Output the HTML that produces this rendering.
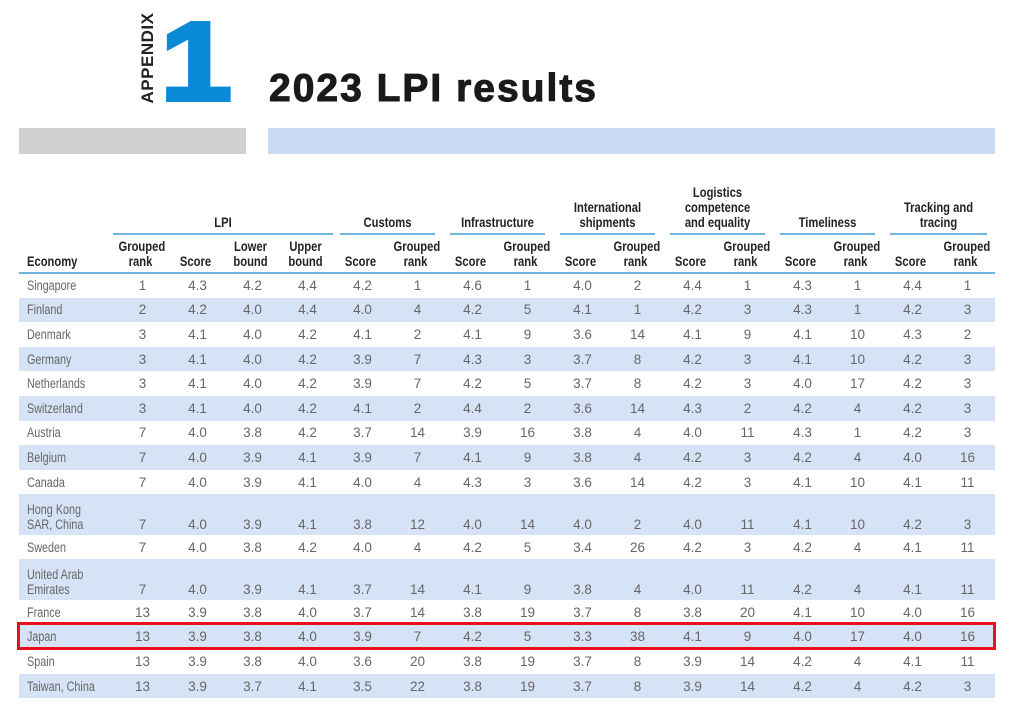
<!DOCTYPE html>
<html><head><meta charset="utf-8"><style>
body{margin:0;width:1013px;height:709px;background:#fff;position:relative;overflow:hidden;font-family:"Liberation Sans",sans-serif;}
.abs{position:absolute}
table{position:absolute;left:19px;top:273px;border-collapse:collapse;table-layout:fixed;width:976px}
td{padding:0;text-align:center;font-size:13.5px;color:#666;height:24.6px;vertical-align:middle}
td span{display:inline-block;transform:scaleX(0.85)}
td:first-child{text-align:left;padding-left:8px;line-height:15px;white-space:nowrap}
td:first-child span{transform:scaleX(0.8);transform-origin:left center}
tr.b td{background:#d6e3f6}
tr.t td{height:37.5px;vertical-align:bottom;padding-bottom:3px}
.h{position:absolute;font-weight:bold;font-size:14px;color:#222;text-align:center;line-height:15px;transform:scaleX(0.8);white-space:nowrap}
.ul{position:absolute;top:233px;height:2px;background:#6fb7e0}
</style></head><body>
<div class="abs" style="left:19px;top:128px;width:227px;height:26px;background:#d0d0d0"></div>
<div class="abs" style="left:268px;top:128px;width:727px;height:26px;background:#c9dbf2"></div>
<div class="abs" style="left:102px;top:48px;width:92px;height:20px;transform:rotate(-90deg);font-weight:bold;font-size:17px;color:#222;letter-spacing:0.5px;text-align:center;line-height:20px">APPENDIX</div>
<div class="abs" style="left:165px;top:6px;font-weight:900;font-size:112px;color:#0a8ad6;line-height:112px;transform:scaleX(1.15);-webkit-text-stroke:4px #0a8ad6">1</div>
<div class="abs" style="left:269px;top:68px;font-weight:900;font-size:39px;color:#1a1a1a;line-height:42px;letter-spacing:2px;-webkit-text-stroke:1px #1a1a1a">2023 LPI results</div>

<div class="h" style="left:113px;width:220px;top:215px">LPI</div>
<div class="h" style="left:340px;width:95px;top:215px">Customs</div>
<div class="h" style="left:450px;width:95px;top:215px">Infrastructure</div>
<div class="h" style="left:555px;width:105px;top:200px">International<br>shipments</div>
<div class="h" style="left:665px;width:105px;top:185px">Logistics<br>competence<br>and equality</div>
<div class="h" style="left:780px;width:95px;top:215px">Timeliness</div>
<div class="h" style="left:885px;width:107px;top:200px">Tracking and<br>tracing</div>
<div class="ul" style="left:113px;width:220px"></div>
<div class="ul" style="left:340px;width:95px"></div>
<div class="ul" style="left:450px;width:95px"></div>
<div class="ul" style="left:560px;width:95px"></div>
<div class="ul" style="left:670px;width:95px"></div>
<div class="ul" style="left:780px;width:95px"></div>
<div class="ul" style="left:890px;width:97px"></div>

<div class="h" style="left:27px;top:254px;text-align:left;transform-origin:left center">Economy</div>
<div class="h" style="left:113px;width:55px;top:239px">Grouped<br>rank</div>
<div class="h" style="left:168px;width:55px;top:254px">Score</div>
<div class="h" style="left:223px;width:55px;top:239px">Lower<br>bound</div>
<div class="h" style="left:278px;width:55px;top:239px">Upper<br>bound</div>
<div class="h" style="left:333px;width:55px;top:254px">Score</div>
<div class="h" style="left:388px;width:55px;top:239px">Grouped<br>rank</div>
<div class="h" style="left:443px;width:55px;top:254px">Score</div>
<div class="h" style="left:498px;width:55px;top:239px">Grouped<br>rank</div>
<div class="h" style="left:553px;width:55px;top:254px">Score</div>
<div class="h" style="left:608px;width:55px;top:239px">Grouped<br>rank</div>
<div class="h" style="left:663px;width:55px;top:254px">Score</div>
<div class="h" style="left:718px;width:55px;top:239px">Grouped<br>rank</div>
<div class="h" style="left:773px;width:55px;top:254px">Score</div>
<div class="h" style="left:828px;width:55px;top:239px">Grouped<br>rank</div>
<div class="h" style="left:883px;width:55px;top:254px">Score</div>
<div class="h" style="left:938px;width:55px;top:239px">Grouped<br>rank</div>
<div class="abs" style="left:19px;top:272px;width:976px;height:2px;background:#6fb7e0"></div>

<table>
<colgroup><col style="width:96px"><col span="16" style="width:55px"></colgroup>
<tr><td><span>Singapore</span></td><td>1</td><td>4.3</td><td>4.2</td><td>4.4</td><td>4.2</td><td>1</td><td>4.6</td><td>1</td><td>4.0</td><td>2</td><td>4.4</td><td>1</td><td>4.3</td><td>1</td><td>4.4</td><td>1</td></tr>
<tr class="b"><td><span>Finland</span></td><td>2</td><td>4.2</td><td>4.0</td><td>4.4</td><td>4.0</td><td>4</td><td>4.2</td><td>5</td><td>4.1</td><td>1</td><td>4.2</td><td>3</td><td>4.3</td><td>1</td><td>4.2</td><td>3</td></tr>
<tr><td><span>Denmark</span></td><td>3</td><td>4.1</td><td>4.0</td><td>4.2</td><td>4.1</td><td>2</td><td>4.1</td><td>9</td><td>3.6</td><td>14</td><td>4.1</td><td>9</td><td>4.1</td><td>10</td><td>4.3</td><td>2</td></tr>
<tr class="b"><td><span>Germany</span></td><td>3</td><td>4.1</td><td>4.0</td><td>4.2</td><td>3.9</td><td>7</td><td>4.3</td><td>3</td><td>3.7</td><td>8</td><td>4.2</td><td>3</td><td>4.1</td><td>10</td><td>4.2</td><td>3</td></tr>
<tr><td><span>Netherlands</span></td><td>3</td><td>4.1</td><td>4.0</td><td>4.2</td><td>3.9</td><td>7</td><td>4.2</td><td>5</td><td>3.7</td><td>8</td><td>4.2</td><td>3</td><td>4.0</td><td>17</td><td>4.2</td><td>3</td></tr>
<tr class="b"><td><span>Switzerland</span></td><td>3</td><td>4.1</td><td>4.0</td><td>4.2</td><td>4.1</td><td>2</td><td>4.4</td><td>2</td><td>3.6</td><td>14</td><td>4.3</td><td>2</td><td>4.2</td><td>4</td><td>4.2</td><td>3</td></tr>
<tr><td><span>Austria</span></td><td>7</td><td>4.0</td><td>3.8</td><td>4.2</td><td>3.7</td><td>14</td><td>3.9</td><td>16</td><td>3.8</td><td>4</td><td>4.0</td><td>11</td><td>4.3</td><td>1</td><td>4.2</td><td>3</td></tr>
<tr class="b"><td><span>Belgium</span></td><td>7</td><td>4.0</td><td>3.9</td><td>4.1</td><td>3.9</td><td>7</td><td>4.1</td><td>9</td><td>3.8</td><td>4</td><td>4.2</td><td>3</td><td>4.2</td><td>4</td><td>4.0</td><td>16</td></tr>
<tr><td><span>Canada</span></td><td>7</td><td>4.0</td><td>3.9</td><td>4.1</td><td>4.0</td><td>4</td><td>4.3</td><td>3</td><td>3.6</td><td>14</td><td>4.2</td><td>3</td><td>4.1</td><td>10</td><td>4.1</td><td>11</td></tr>
<tr class="b t"><td><span>Hong Kong<br>SAR, China</span></td><td>7</td><td>4.0</td><td>3.9</td><td>4.1</td><td>3.8</td><td>12</td><td>4.0</td><td>14</td><td>4.0</td><td>2</td><td>4.0</td><td>11</td><td>4.1</td><td>10</td><td>4.2</td><td>3</td></tr>
<tr><td><span>Sweden</span></td><td>7</td><td>4.0</td><td>3.8</td><td>4.2</td><td>4.0</td><td>4</td><td>4.2</td><td>5</td><td>3.4</td><td>26</td><td>4.2</td><td>3</td><td>4.2</td><td>4</td><td>4.1</td><td>11</td></tr>
<tr class="b t"><td><span>United Arab<br>Emirates</span></td><td>7</td><td>4.0</td><td>3.9</td><td>4.1</td><td>3.7</td><td>14</td><td>4.1</td><td>9</td><td>3.8</td><td>4</td><td>4.0</td><td>11</td><td>4.2</td><td>4</td><td>4.1</td><td>11</td></tr>
<tr><td><span>France</span></td><td>13</td><td>3.9</td><td>3.8</td><td>4.0</td><td>3.7</td><td>14</td><td>3.8</td><td>19</td><td>3.7</td><td>8</td><td>3.8</td><td>20</td><td>4.1</td><td>10</td><td>4.0</td><td>16</td></tr>
<tr class="b"><td><span>Japan</span></td><td>13</td><td>3.9</td><td>3.8</td><td>4.0</td><td>3.9</td><td>7</td><td>4.2</td><td>5</td><td>3.3</td><td>38</td><td>4.1</td><td>9</td><td>4.0</td><td>17</td><td>4.0</td><td>16</td></tr>
<tr><td><span>Spain</span></td><td>13</td><td>3.9</td><td>3.8</td><td>4.0</td><td>3.6</td><td>20</td><td>3.8</td><td>19</td><td>3.7</td><td>8</td><td>3.9</td><td>14</td><td>4.2</td><td>4</td><td>4.1</td><td>11</td></tr>
<tr class="b"><td><span>Taiwan, China</span></td><td>13</td><td>3.9</td><td>3.7</td><td>4.1</td><td>3.5</td><td>22</td><td>3.8</td><td>19</td><td>3.7</td><td>8</td><td>3.9</td><td>14</td><td>4.2</td><td>4</td><td>4.2</td><td>3</td></tr>
</table>
<div class="abs" style="left:17px;top:622px;width:973px;height:22px;border:3px solid #e8101a"></div>
</body></html>
